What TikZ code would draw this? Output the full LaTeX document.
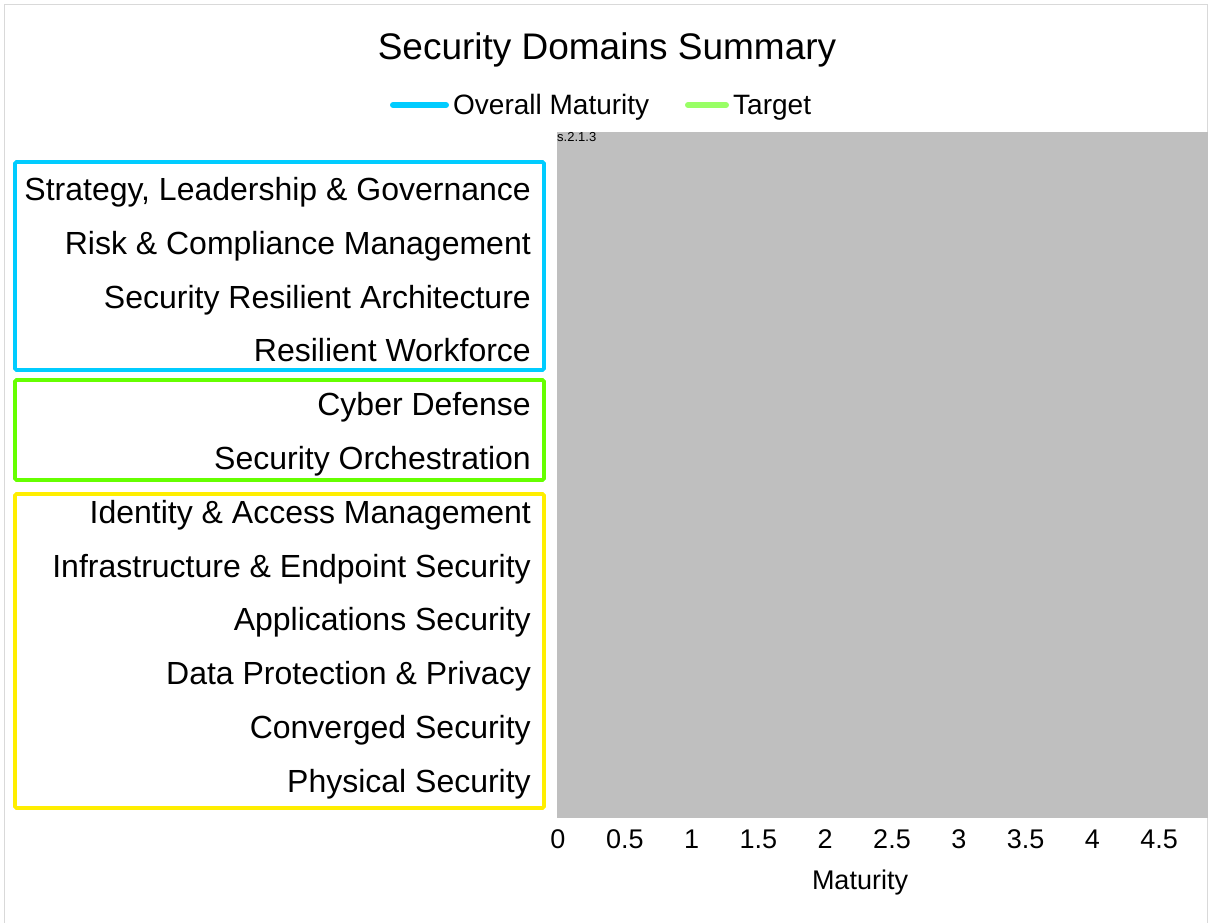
\documentclass[tikz,border=0pt]{standalone}
\usepackage{fontspec}
\setmainfont{Liberation Sans}
\definecolor{frameGray}{HTML}{D9D9D9}
\definecolor{plotGray}{HTML}{BFBFBF}
\definecolor{domBlue}{HTML}{00CCFF}
\definecolor{domGreen}{HTML}{66FF00}
\definecolor{domYellow}{HTML}{FFEE00}
\definecolor{targetGreen}{HTML}{99FF66}
\begin{document}
\begin{tikzpicture}[x=1pt,y=-1pt,
  lbl/.style={anchor=base east,inner sep=0pt,font=\fontsize{32}{38}\selectfont},
  tick/.style={anchor=base,inner sep=0pt,font=\fontsize{27}{32}\selectfont},
  groupbox/.style={line width=3.6pt,rounded corners=1.5pt},
  legline/.style={line width=6pt,line cap=round}]
\useasboundingbox (0,0) rectangle (1208,923);
% outer frame of the chart
\begin{scope}
  \clip (0,0) rectangle (1208,923);
  \draw[frameGray,line width=1.5pt] (4.5,4.5) rectangle (1207.5,940);
\end{scope}
% title
\node[anchor=base,inner sep=0pt,font=\fontsize{37}{44}\selectfont] (title) at (607,60) {Security Domains Summary};
% legend
\draw[domBlue,legline] (393,105) -- (446,105);
\node[anchor=base west,inner sep=0pt,font=\fontsize{28}{33}\selectfont] (legA) at (453,115) {Overall Maturity};
\draw[targetGreen,legline] (688,105) -- (726,105);
\node[anchor=base west,inner sep=0pt,font=\fontsize{28}{33}\selectfont] (legB) at (733,115) {Target};
% plot area
\fill[plotGray] (557,132) rectangle (1208,818);
\node[anchor=base west,inner sep=0pt,font=\fontsize{13}{15}\selectfont] (tag) at (557,142) {s.2.1.3};
% domain group boxes
\draw[domBlue,groupbox] (15,162) rectangle (544,370);
\draw[domGreen,groupbox] (15,380) rectangle (544,480);
\draw[domYellow,groupbox] (15,494) rectangle (544,808);
% domain labels
\foreach \t [count=\i from 0] in {{Strategy, Leadership \& Governance},
    Risk \& Compliance Management,
    Security Resilient Architecture,
    Resilient Workforce,
    Cyber Defense,
    Security Orchestration,
    Identity \& Access Management,
    Infrastructure \& Endpoint Security,
    Applications Security,
    Data Protection \& Privacy,
    Converged Security,
    Physical Security}
  \node[lbl] (dom\i) at (531,200.5+53.8*\i) {\t};
% x-axis tick labels
\foreach \v/\s [count=\i from 0] in {0/0,0.5/0.5,1/1,1.5/1.5,2/2,2.5/2.5,3/3,3.5/3.5,4/4,4.5/4.5}
  \node[tick] (tk\i) at (558+133.6*\v,848) {\s};
% axis title
\node[tick] (xtitle) at (860,889) {Maturity};
\end{tikzpicture}
\end{document}
